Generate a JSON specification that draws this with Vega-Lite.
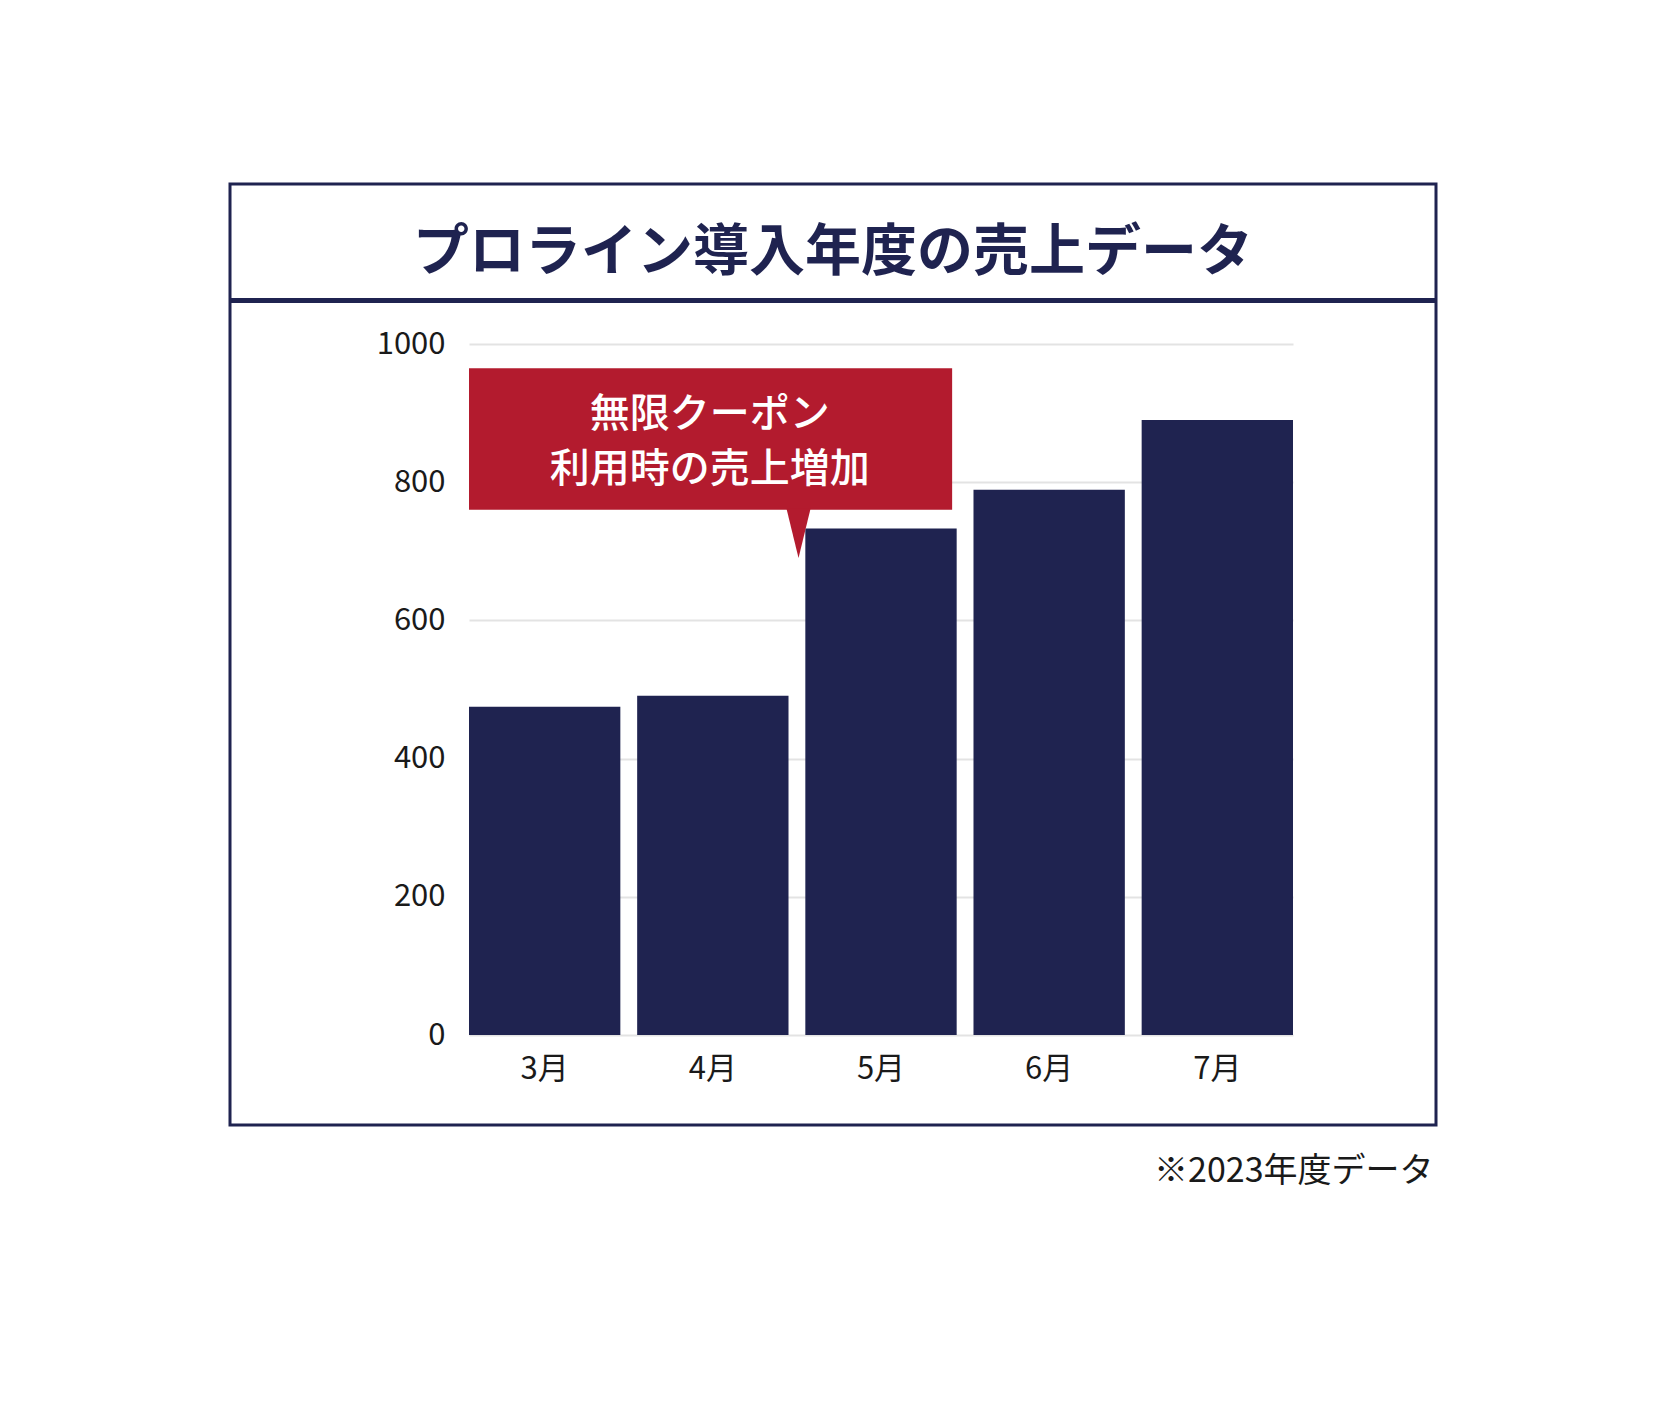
{
  "$schema": "https://vega.github.io/schema/vega-lite/v6.json",
  "autosize": {"type": "none"},
  "padding": {"left": 230, "top": 184, "right": 219, "bottom": 289},
  "width": 1206,
  "height": 941,
  "background": "white",
  "config": {
    "font": "Noto Sans CJK JP",
    "view": {"stroke": "#1f2350", "strokeWidth": 3}
  },
  "layer": [
    {
      "data": {
        "values": [
          {"month": "3月", "sales": 475},
          {"month": "4月", "sales": 491},
          {"month": "5月", "sales": 733},
          {"month": "6月", "sales": 789},
          {"month": "7月", "sales": 890}
        ]
      },
      "mark": {"type": "bar", "color": "#1f2350"},
      "encoding": {
        "x": {
          "field": "month", "type": "nominal", "sort": null,
          "scale": {"type": "band", "range": [239, 1063], "paddingInner": 0.1, "paddingOuter": 0},
          "axis": {
            "orient": "bottom", "offset": -90.5, "domain": false, "ticks": false,
            "labelAngle": 0, "labelPadding": 35, "labelBaseline": "middle",
            "labelFontSize": 31, "labelColor": "#1a1a1a",
            "title": "※2023年度データ", "titleX": 1203, "titleY": 137,
            "titleAlign": "right", "titleBaseline": "middle",
            "titleFontSize": 34, "titleFontWeight": "normal", "titleColor": "#1a1a1a"
          }
        },
        "y": {
          "field": "sales", "type": "quantitative",
          "scale": {"domain": [0, 1000], "range": [851, 160], "nice": false},
          "axis": {
            "values": [0, 200, 400, 600, 800, 1000], "format": "d", "offset": -239,
            "domain": false, "ticks": false, "labelPadding": 24,
            "labelFontSize": 31, "labelColor": "#1a1a1a",
            "gridColor": "#e3e3e3", "gridWidth": 2, "title": null
          }
        }
      }
    },
    {
      "data": {"values": [{"title": "プロライン導入年度の売上データ"}]},
      "layer": [
        {
          "mark": {"type": "rule", "color": "#1f2350", "strokeWidth": 5},
          "encoding": {"y": {"datum": 1063}}
        },
        {
          "mark": {"type": "text", "fontSize": 56, "fontWeight": "bold", "color": "#1f2350", "align": "center", "baseline": "middle"},
          "encoding": {
            "text": {"field": "title", "type": "nominal"},
            "y": {"datum": 1132}
          }
        }
      ]
    },
    {
      "data": {"values": [{"note": "無限クーポン\n利用時の売上増加"}]},
      "layer": [
        {
          "mark": {"type": "rect", "color": "#b31b2e"},
          "encoding": {
            "x": {"datum": "3月", "bandPosition": 0},
            "x2": {"datum": "5月", "bandPosition": 0.97},
            "y": {"datum": 965},
            "y2": {"datum": 760}
          }
        },
        {
          "mark": {"type": "point", "shape": "M-0.5,-1.05L0.5,-1.05L0,1Z", "filled": true, "opacity": 1, "color": "#b31b2e", "size": 2304},
          "encoding": {
            "x": {"datum": "5月", "bandPosition": -0.045},
            "y": {"datum": 725}
          }
        },
        {
          "mark": {"type": "text", "color": "white", "fontSize": 40, "fontWeight": 500, "lineBreak": "\n", "lineHeight": 55, "align": "center", "baseline": "middle"},
          "encoding": {
            "text": {"field": "note", "type": "nominal"},
            "x": {"datum": "4月", "bandPosition": 0.48},
            "y": {"datum": 897}
          }
        }
      ]
    }
  ]
}
